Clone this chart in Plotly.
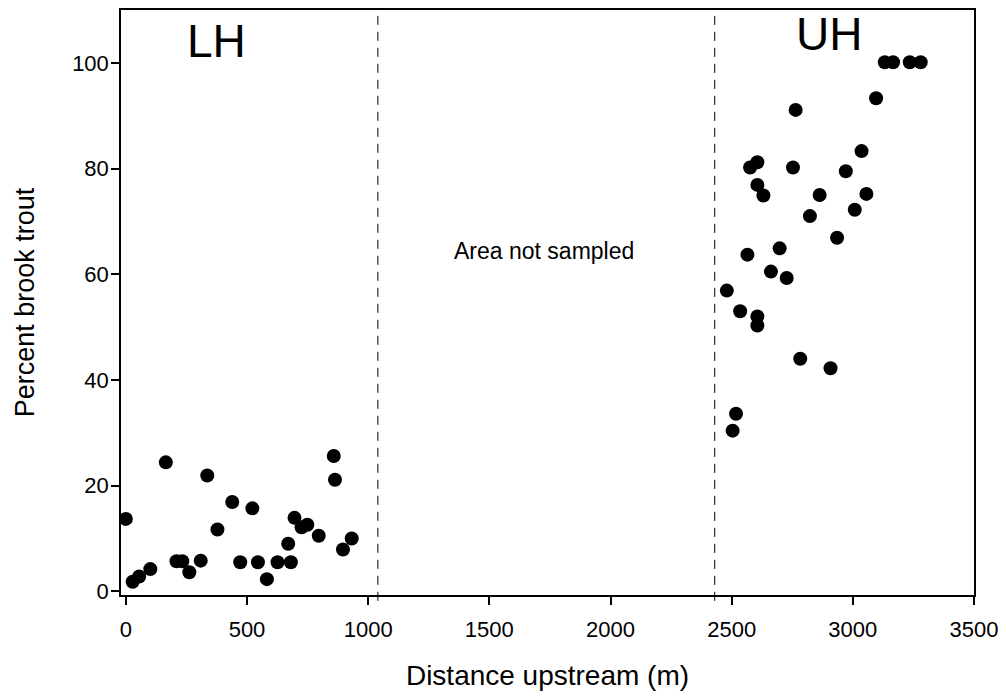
import plotly.graph_objects as go

# Lower-habitat (LH) sampling sites: distance upstream (m) and percent brook trout
lh_distance = [0, 28, 55, 101, 165, 209, 233, 262, 309, 336, 378, 439, 472, 522,
               545, 582, 626, 670, 681, 696, 725, 749, 796, 858, 863, 896, 932]
lh_percent = [13.7, 1.8, 2.8, 4.2, 24.4, 5.7, 5.7, 3.6, 5.8, 21.9, 11.7, 16.9, 5.5, 15.7,
              5.5, 2.3, 5.5, 9.0, 5.5, 13.9, 12.1, 12.6, 10.5, 25.6, 21.1, 7.9, 10.0]

# Upper-habitat (UH) sampling sites
uh_distance = [3132, 3166, 3235, 3280, 3096, 2764, 3036, 2606, 2576, 2753,
               2971, 2606, 2631, 2863, 3056, 3008, 2823, 2935, 2698, 2565,
               2662, 2727, 2480, 2535, 2606, 2606, 2783, 2908, 2518, 2504]
uh_percent = [100.1, 100.1, 100.1, 100.1, 93.3, 91.1, 83.3, 81.2, 80.2, 80.2,
              79.5, 76.9, 74.9, 75.0, 75.2, 72.2, 71.0, 66.9, 64.9, 63.7,
              60.5, 59.3, 56.9, 53.0, 52.0, 50.3, 44.0, 42.2, 33.6, 30.4]

# Boundaries of the unsampled reach
boundaries = [1040, 2430]

x_ticks = [0, 500, 1000, 1500, 2000, 2500, 3000, 3500]
y_ticks = [0, 20, 40, 60, 80, 100]

FONT = "Liberation Sans, Arial, sans-serif"

fig = go.Figure()
for xs, ys, name in [(lh_distance, lh_percent, "LH"), (uh_distance, uh_percent, "UH")]:
    fig.add_trace(go.Scatter(
        x=xs, y=ys, mode="markers", name=name,
        marker=dict(color="black", size=14, line=dict(width=0)),
        showlegend=False,
    ))

for b in boundaries:
    fig.add_shape(type="line", xref="x", yref="paper", x0=b, x1=b, y0=-0.01, y1=1,
                  line=dict(color="black", width=1, dash="9px,7px"))

fig.add_annotation(x=373, y=104.2, xref="x", yref="y", text="LH", showarrow=False,
                   font=dict(family=FONT, size=46, color="black"))
fig.add_annotation(x=2901, y=105.4, xref="x", yref="y", text="UH", showarrow=False,
                   font=dict(family=FONT, size=46, color="black"))
fig.add_annotation(x=1727, y=64.4, xref="x", yref="y", text="Area not sampled",
                   showarrow=False, font=dict(family=FONT, size=23, color="black"))

axis_common = dict(
    showgrid=False, zeroline=False, showline=True, mirror=True,
    linecolor="black", linewidth=1.5,
    ticks="outside", ticklen=8, tickwidth=1.5, tickcolor="black",
    tickfont=dict(family=FONT, size=22, color="black"),
)

fig.update_xaxes(
    range=[-20, 3500], tickvals=x_ticks, ticklabelstandoff=6,
    title=dict(text="Distance upstream (m)", standoff=24,
               font=dict(family=FONT, size=28, color="black")),
    **axis_common,
)
fig.update_yaxes(
    range=[-0.7, 110], tickvals=y_ticks, ticklabelstandoff=-2,
    title=dict(text="Percent brook trout", standoff=30,
               font=dict(family=FONT, size=27, color="black")),
    **axis_common,
)

fig.update_layout(
    width=1006, height=700,
    margin=dict(l=121, r=29, t=8, b=105),
    paper_bgcolor="white", plot_bgcolor="white",
)

fig.write_html("out.html")
